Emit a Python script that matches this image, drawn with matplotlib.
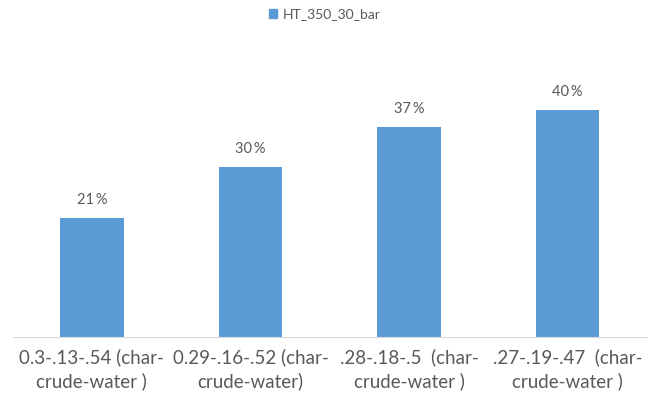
import matplotlib
matplotlib.use("Agg")
import matplotlib.pyplot as plt
from matplotlib.patches import Patch

categories = ["0.3-.13-.54 (char-\ncrude-water )",
              "0.29-.16-.52 (char-\ncrude-water)",
              ".28-.18-.5  (char-\ncrude-water )",
              ".27-.19-.47  (char-\ncrude-water )"]
values = [21, 30, 37, 40]
series_name = "HT_350_30_bar"

bar_color = "#5B9BD5"
text_color = "#595959"
plt.rcParams['font.family'] = ['Lato', 'DejaVu Sans']

fig = plt.figure(figsize=(6.49, 4.01), dpi=100)
ax = fig.add_axes([12.6 / 649, 1 - 337 / 401, (647 - 12.6) / 649, (337 - 40) / 401])

x = range(len(categories))
bars = ax.bar(x, values, width=0.4, color=bar_color, zorder=2)
for b, v in zip(bars, values):
    ax.annotate(f"{v}\u2009%", (b.get_x() + b.get_width() / 2, v), xytext=(0, 8),
                textcoords="offset points", ha="center", va="bottom",
                fontsize=10.5, color=text_color, family=['Lato', 'DejaVu Sans'])

ax.set_xlim(-0.5, 3.5)
ax.set_ylim(0, 52.4)
ax.set_xticks(list(x))
ax.set_xticklabels(categories, fontsize=13.5, color=text_color, linespacing=1.42)
ax.tick_params(axis="x", length=0, pad=8)
ax.set_yticks([])
for s in ["top", "right", "left"]:
    ax.spines[s].set_visible(False)
ax.spines["bottom"].set_color("#D9D9D9")

fig.legend(handles=[Patch(color=bar_color, label=series_name)], loc="upper center",
           bbox_to_anchor=(0.5, 1.01), frameon=False, fontsize=10, handlelength=0.6,
           handleheight=0.6, handletextpad=0.4, labelcolor=text_color)

fig.savefig("out.png", dpi=100)
